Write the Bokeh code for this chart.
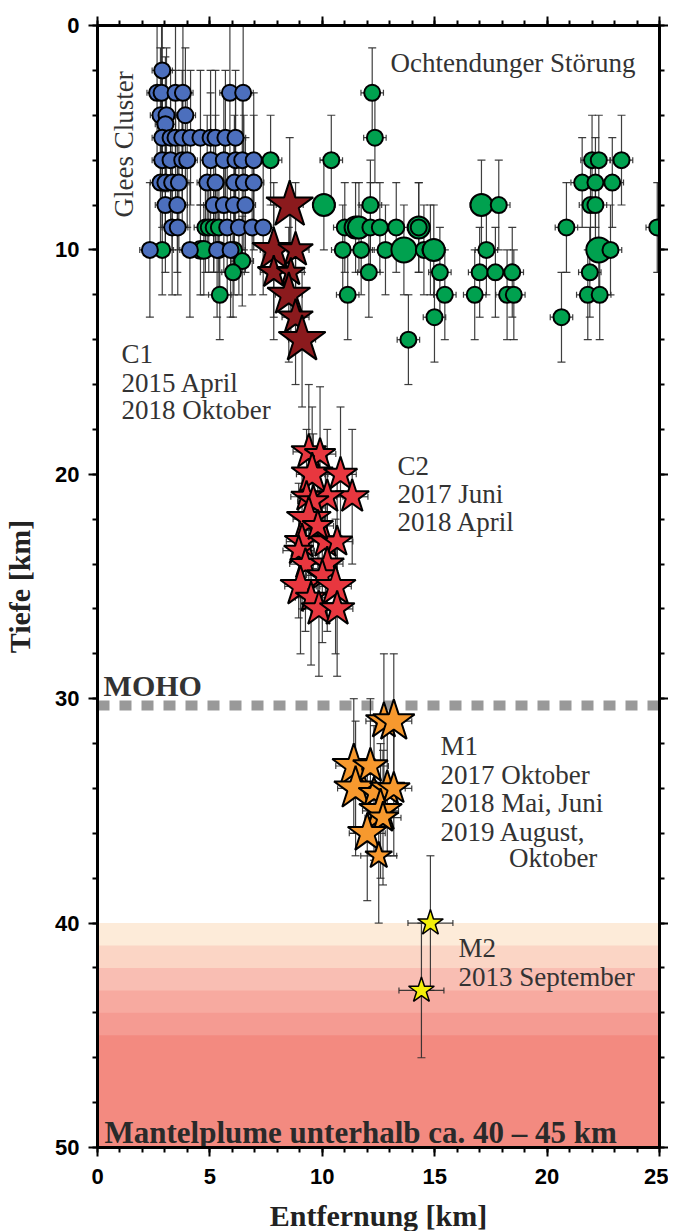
import numpy as np
from bokeh.plotting import figure
from bokeh.models import (Range1d, LinearAxis, SingleIntervalTicker, ColumnDataSource,
                          Whisker, TeeHead, Span, CustomJSTickFormatter)
from bokeh.core.properties import value
from bokeh.embed import file_html
from bokeh.resources import INLINE

# ---------------- data ----------------
X_RANGE = (0, 25)          # Entfernung [km]
Z_RANGE = (50, 0)          # Tiefe [km] (inverted)
MOHO_DEPTH = 30.3

# Glees cluster (blue)
glees_x = [2.88,
           2.65, 2.85, 3.47, 3.80, 5.89, 6.48,
           2.80, 3.07, 3.91, 3.02,
           2.88, 3.25, 3.47, 3.77, 4.14, 4.58, 5.03, 5.25, 5.69, 6.14,
           2.88, 3.25, 3.77, 3.99, 5.03, 5.62, 6.14, 6.44, 6.95,
           2.80, 3.02, 3.32, 3.62, 4.88, 5.25, 6.09, 6.51, 6.95,
           3.02, 3.55, 5.17, 5.62, 6.07, 6.58,
           3.32, 3.57, 5.77, 6.29, 6.88, 7.37,
           2.33, 4.11, 5.32, 5.92]
glees_z = [2,
           3, 3, 3, 3, 3, 3,
           4, 4, 4, 4.4,
           5, 5, 5, 5, 5, 5, 5, 5, 5, 5,
           6, 6, 6, 6, 6, 6, 6, 6, 6,
           7, 7, 7, 7, 7, 7, 7, 7, 7,
           8, 8, 8, 8, 8, 8,
           9, 9, 9, 9, 9, 9,
           10, 10, 10, 10]

# Ochtendunger Stoerung (green)
ocht_x = [12.22, 12.34, 10.40, 7.70, 22.00, 22.30, 23.31,
          21.56, 22.15, 22.90,
          10.07, 12.14, 17.08, 17.85, 21.93, 22.15,
          4.80, 4.95, 5.17, 5.40, 11.00, 11.48, 11.63, 12.14, 12.56, 13.29, 14.29, 14.29, 20.86, 24.90,
          2.88, 4.58, 4.73, 5.40, 6.07, 10.91, 11.73, 12.81, 13.63, 14.52, 14.81, 14.96, 17.30, 22.30, 22.82,
          6.44,
          6.03, 12.07, 15.23, 17.00, 17.70, 18.45, 21.90,
          5.44, 11.13, 15.45, 16.78, 18.22, 18.52, 21.81, 22.34,
          14.99, 20.64, 13.83]
ocht_z = [3, 5, 6, 6, 6, 6, 6,
          7, 7, 7,
          8, 8, 8, 8, 8, 8,
          9, 9, 9, 9, 9, 9, 9, 9, 9, 9, 9, 9, 9, 9,
          10, 10, 10, 10, 10, 10, 10, 10, 10, 10, 10, 10, 10, 10, 10,
          10.5,
          11, 11, 11, 11, 11, 11, 11,
          12, 12, 12, 12, 12, 12, 12, 12,
          13, 13, 14]
ocht_mag = [1, 1, 1, 1, 1, 1, 1,
            1, 1, 1,
            2, 1, 2, 1, 1, 1,
            1, 1, 1, 1, 1, 2, 2, 1, 1, 1, 2, 1, 1, 1,
            1, 1.3, 1.3, 1, 1, 1, 1, 1, 2.5, 1, 1, 2, 1, 2.5, 1,
            1,
            1, 1, 1, 1, 1, 1, 1,
            1, 1, 1, 1, 1, 1, 1, 1,
            1, 1, 1]

# C1: 2015 April - 2018 Oktober (dark red stars)
c1_x = [8.55, 7.84, 8.81, 7.84, 8.60, 8.51, 8.81, 9.10]
c1_z = [8, 10, 10, 11, 11, 12, 13, 14]
c1_mag = [2.1, 1.8, 1.2, 1.0, 0.7, 1.8, 1.2, 2.1]

# C2: 2017 Juni - 2018 April (red stars)
c2_x = [9.40, 9.90, 9.55, 10.81, 11.33, 10.22, 9.30, 9.60, 9.40, 9.10, 10.14,
        10.66, 8.95, 9.80, 9.25, 10.22, 10.00, 9.03, 10.59, 9.50, 9.85, 10.66]
c2_z = [19, 19.1, 20, 20, 21, 21, 21, 21.2, 22, 23, 23,
        23, 23.4, 22.3, 24, 24, 24.5, 25, 25, 25.5, 26, 26]
c2_mag = [1.2, 0.9, 1.7, 1.1, 1.1, 1.1, 0.9, 0.9, 1.9, 1.2, 1.1,
          0.9, 0.8, 0.9, 0.9, 1.1, 0.9, 1.6, 1.6, 0.9, 1.2, 1.2]

# M1: 2017 Oktober, 2018 Mai/Juni, 2019 August/Oktober (orange stars)
m1_x = [12.74, 13.18, 11.40, 12.14, 11.48, 12.30, 12.89, 13.18, 12.59, 12.70, 12.00, 12.51]
m1_z = [31, 31, 33, 33, 34, 34.2, 34, 34, 35, 35.3, 36, 37]
m1_mag = [1.3, 1.7, 1.8, 1.2, 1.8, 0.9, 1.2, 1.0, 1.8, 0.9, 1.5, 0.6]

# M2: 2013 September (yellow stars)
m2_x = [14.81, 14.41]
m2_z = [40, 43]
m2_mag = [0.5, 0.5]

# Mantle plume bands (top depth of each shade; each shade extends to the bottom)
plume_top = [40, 41, 42, 43, 44, 45]
plume_colors = ["#fdebd9", "#fbd5c5", "#f9beb3", "#f7aaa0", "#f59b92", "#f38a80"]

# ---------------- figure ----------------
p = figure(frame_width=562, frame_height=1122,
           x_range=Range1d(*X_RANGE), y_range=Range1d(*Z_RANGE),
           output_backend="svg", toolbar_location=None,
           min_border_left=89, min_border_top=25, min_border_bottom=76, min_border_right=0,
           background_fill_color="white", border_fill_color="white")
p.grid.visible = False
p.outline_line_color = "black"
p.outline_line_width = 3

SERIF = "Liberation Serif"
SANS = "Liberation Sans"
blank = CustomJSTickFormatter(code="return ''")

def style_axis(ax, labels=True):
    ax.axis_line_width = 3
    ax.axis_line_color = "black"
    ax.major_tick_out = 9
    ax.major_tick_in = 0
    ax.minor_tick_out = 5
    ax.minor_tick_in = 0
    ax.major_tick_line_width = 2
    ax.minor_tick_line_width = 2
    ax.major_label_text_font = SANS
    ax.major_label_text_font_style = "bold"
    ax.major_label_text_color = "black"
    ax.major_label_text_font_size = "22px"
    if not labels:
        ax.formatter = blank
        ax.major_label_standoff = 0

xt = SingleIntervalTicker(interval=5, num_minor_ticks=5)
zt = SingleIntervalTicker(interval=10, num_minor_ticks=5)

p.xaxis.ticker = xt
p.yaxis.ticker = zt
style_axis(p.xaxis[0])
style_axis(p.yaxis[0])
p.xaxis.major_label_standoff = 12
p.yaxis.major_label_standoff = 9
p.xaxis.axis_label = "Entfernung [km]"
p.yaxis.axis_label = "Tiefe [km]"
for ax in (p.xaxis[0], p.yaxis[0]):
    ax.axis_label_text_font = SERIF
    ax.axis_label_text_font_style = "bold"
    ax.axis_label_text_font_size = "30px"
    ax.axis_label_text_color = "#222222"
p.xaxis.axis_label_standoff = 12
p.yaxis.axis_label_standoff = 16

top_ax = LinearAxis(ticker=SingleIntervalTicker(interval=5, num_minor_ticks=5))
style_axis(top_ax, labels=False)
p.add_layout(top_ax, "above")
right_ax = LinearAxis(ticker=SingleIntervalTicker(interval=10, num_minor_ticks=5))
style_axis(right_ax, labels=False)
p.add_layout(right_ax, "right")

# plume bands: stacked shades, each darker one painted over the previous
bands = ColumnDataSource(dict(top=plume_top, color=plume_colors))
qr = p.quad(left=X_RANGE[0], right=X_RANGE[1], top="top", bottom=Z_RANGE[0],
            fill_color="color", line_color=None, source=bands)
qr.level = "image"

# MOHO
moho = Span(location=MOHO_DEPTH, dimension="width", line_color="#999999",
            line_width=10, line_dash="12 10", level="underlay")
p.add_layout(moho)

ERR_COLOR = "#2a2a2a"
ERR_ALPHA = 0.9

def add_group(xs, zs, xerr, zerr, sizes):
    xs = np.asarray(xs, float)
    zs = np.asarray(zs, float)
    src = ColumnDataSource(dict(x=xs, z=zs, size=sizes,
                                xlo=xs - xerr, xhi=xs + xerr,
                                zlo=np.maximum(zs - zerr, 0), zhi=zs + zerr))
    kw = dict(line_color=ERR_COLOR, line_alpha=ERR_ALPHA, line_width=1.2)
    wv = Whisker(base="x", lower="zlo", upper="zhi", dimension="height", source=src,
                 level="underlay", upper_head=TeeHead(size=8, **kw),
                 lower_head=TeeHead(size=8, **kw), **kw)
    wh = Whisker(base="z", lower="xlo", upper="xhi", dimension="width", source=src,
                 level="underlay", upper_head=TeeHead(size=6, **kw),
                 lower_head=TeeHead(size=6, **kw), **kw)
    p.add_layout(wv)
    p.add_layout(wh)
    return src


circ = lambda mags: [10 + 6 * m for m in mags]
star = lambda mags: [20 + 14 * m for m in mags]

src_g = add_group(glees_x, glees_z, 0.45, 3, circ([1] * len(glees_x)))
src_o = add_group(ocht_x, ocht_z, 0.5, 2, circ(ocht_mag))
src_c1 = add_group(c1_x, c1_z, 0.6, 3, star(c1_mag))
src_c2 = add_group(c2_x, c2_z, 0.7, 3, star(c2_mag))
src_m1 = add_group(m1_x, m1_z, 0.8, 3, star(m1_mag))
src_m2 = add_group(m2_x, m2_z, 1.0, 3, star(m2_mag))

p.scatter("x", "z", size="size", marker="circle", fill_color="#00a14f",
          line_color="black", line_width=2, source=src_o)
p.scatter("x", "z", size="size", marker="circle", fill_color="#4c6fbd",
          line_color="black", line_width=2, source=src_g)
p.scatter("x", "z", size="size", marker="star", fill_color="#8b1a1d",
          line_color="black", line_width=2, source=src_c1)
p.scatter("x", "z", size="size", marker="star", fill_color="#e8373f",
          line_color="black", line_width=2, source=src_c2)
p.scatter("x", "z", size="size", marker="star", fill_color="#f7992e",
          line_color="black", line_width=2, source=src_m1)
p.scatter("x", "z", size="size", marker="star", fill_color="#f3ee0a",
          line_color="black", line_width=1.5, source=src_m2)

# ---------------- annotations ----------------
def txt(x, z, s, size="27px", style="normal", color="#333333", angle=0.0):
    p.text(x=[x], y=[z], text=[s], text_font=value(SERIF), text_font_size=size,
           text_font_style=style, text_color=color, text_align="left",
           text_baseline="alphabetic", angle=angle)

txt(13.03, 1.68, "Ochtendunger Störung")
txt(1.17, 8.56, "Glees Cluster", angle=np.pi / 2)
txt(1.07, 14.66, "C1")
txt(1.07, 15.93, "2015 April")
txt(1.07, 17.15, "2018 Oktober")
txt(13.35, 19.65, "C2")
txt(13.35, 20.90, "2017 Juni")
txt(13.35, 22.12, "2018 April")
txt(15.26, 32.13, "M1")
txt(15.26, 33.39, "2017 Oktober")
txt(15.26, 34.66, "2018 Mai, Juni")
txt(15.26, 35.92, "2019 August,")
txt(18.30, 37.11, "Oktober")
txt(16.06, 41.09, "M2")
txt(16.06, 42.38, "2013 September")
txt(0.27, 29.4, "MOHO", size="30px", style="bold", color="#333333")
txt(0.31, 49.33, "Mantelplume unterhalb ca. 40 – 45 km", size="31px", style="bold", color="#2a2a2a")

open("out.html", "w").write(file_html(p, INLINE))
